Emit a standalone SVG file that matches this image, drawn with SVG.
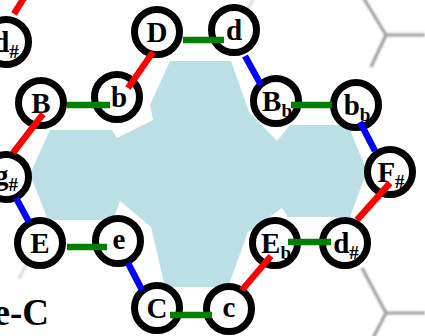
<svg xmlns="http://www.w3.org/2000/svg" width="425" height="336" viewBox="0 0 425 336">
<defs>
<style>
.grid{stroke:#9c9c9c;stroke-width:3;fill:none;filter:url(#blur)}
.faint{opacity:0.35}
.node circle{fill:#fff;stroke:#000;stroke-width:7}
.node text{font-family:"Liberation Serif","Times New Roman",serif;font-weight:bold;font-size:29px;text-anchor:middle;fill:#000}
.sub{font-size:19px}
.edge{stroke-width:6.5;fill:none;stroke-linecap:butt}
.r{stroke:#ff0000}
.g{stroke:#008000}
.bl{stroke:#0000ff}
.title{font-family:"Liberation Serif","Times New Roman",serif;font-weight:bold;font-size:37px;text-anchor:end;fill:#000}
</style>
<filter id="blur" filterUnits="userSpaceOnUse" x="0" y="0" width="425" height="336"><feGaussianBlur stdDeviation="0.8"/></filter>
</defs>
<rect width="425" height="336" fill="#fff"/>
<g id="grid">
<polyline class="grid" points="363,-3 386,35 425,35"/>
<line class="grid" x1="386" y1="35" x2="371" y2="67"/>
<polyline class="grid" points="362,268 386,313 425,313"/>
<line class="grid" x1="386" y1="313" x2="373" y2="338"/>
<line class="grid faint" x1="254" y1="-2" x2="246" y2="12"/>
<line class="grid faint" x1="26" y1="265" x2="19" y2="279"/>
</g>
<polygon id="region" fill="#badfe4" points="170,61 231,61 249,112 277,141 290,125 348,125 367,171 350,217 288,217 282,208 248,232 228,287 165,287 151,227 120,201 113,220 48,220 30,174 50,130 112,130 117,138 153,120 150,105"/>
<g id="nodes">
<g id="n-dsharp-top" class="node"><circle cx="6" cy="42" r="22.5"/><text x="6" y="52">d<tspan class="sub" dy="6">#</tspan></text></g>
<g id="n-D" class="node"><circle cx="157" cy="32" r="22.5"/><text x="157" y="42">D</text></g>
<g id="n-d" class="node"><circle cx="234" cy="30" r="22.5"/><text x="234" y="40">d</text></g>
<g id="n-B" class="node"><circle cx="41" cy="103" r="22.5"/><text x="41" y="113">B</text></g>
<g id="n-b" class="node"><circle cx="117" cy="97" r="22.5"/><text x="119" y="107">b</text></g>
<g id="n-Bb" class="node"><circle cx="276" cy="101" r="22.5"/><text x="277" y="111">B<tspan class="sub" dy="6">b</tspan></text></g>
<g id="n-bb" class="node"><circle cx="356" cy="105" r="22.5"/><text x="357" y="115">b<tspan class="sub" dy="6">b</tspan></text></g>
<g id="n-gsharp" class="node"><circle cx="6" cy="177" r="22.5"/><text x="6" y="185">g<tspan class="sub" dy="6">#</tspan></text></g>
<g id="n-Fsharp" class="node"><circle cx="390" cy="172" r="22.5"/><text x="391" y="182">F<tspan class="sub" dy="6">#</tspan></text></g>
<g id="n-E" class="node"><circle cx="40" cy="243" r="22.5"/><text x="40" y="253">E</text></g>
<g id="n-e" class="node"><circle cx="118" cy="241" r="22.5"/><text x="119" y="249">e</text></g>
<g id="n-Eb" class="node"><circle cx="275" cy="243" r="22.5"/><text x="276" y="253">E<tspan class="sub" dy="6">b</tspan></text></g>
<g id="n-dsharp" class="node"><circle cx="345" cy="243" r="22.5"/><text x="346" y="253">d<tspan class="sub" dy="6">#</tspan></text></g>
<g id="n-C" class="node"><circle cx="157" cy="308" r="22.5"/><text x="157" y="318">C</text></g>
<g id="n-c" class="node"><circle cx="229" cy="309" r="22.5"/><text x="229" y="317">c</text></g>
</g>
<g id="connectors">
<line class="edge r" x1="14" y1="14" x2="30" y2="-12"/>
<line class="edge g" x1="183" y1="40" x2="224" y2="40"/>
<line class="edge r" x1="153" y1="52" x2="128" y2="88"/>
<line class="edge g" x1="67" y1="105" x2="110" y2="105"/>
<line class="edge r" x1="43" y1="114" x2="13" y2="153"/>
<line class="edge bl" x1="245" y1="56" x2="261" y2="85"/>
<line class="edge g" x1="291" y1="105" x2="332" y2="105"/>
<line class="edge bl" x1="360" y1="122" x2="375" y2="151"/>
<line class="edge r" x1="390" y1="183" x2="357" y2="220"/>
<line class="edge g" x1="288" y1="242" x2="331" y2="242"/>
<line class="edge r" x1="271" y1="256" x2="242" y2="290"/>
<line class="edge g" x1="170" y1="315" x2="212" y2="315"/>
<line class="edge bl" x1="128" y1="263" x2="142" y2="290"/>
<line class="edge g" x1="67" y1="247" x2="107" y2="247"/>
<line class="edge bl" x1="16" y1="198" x2="29" y2="222"/>
</g>
<text class="title" x="49" y="325">e-C</text>
</svg>
